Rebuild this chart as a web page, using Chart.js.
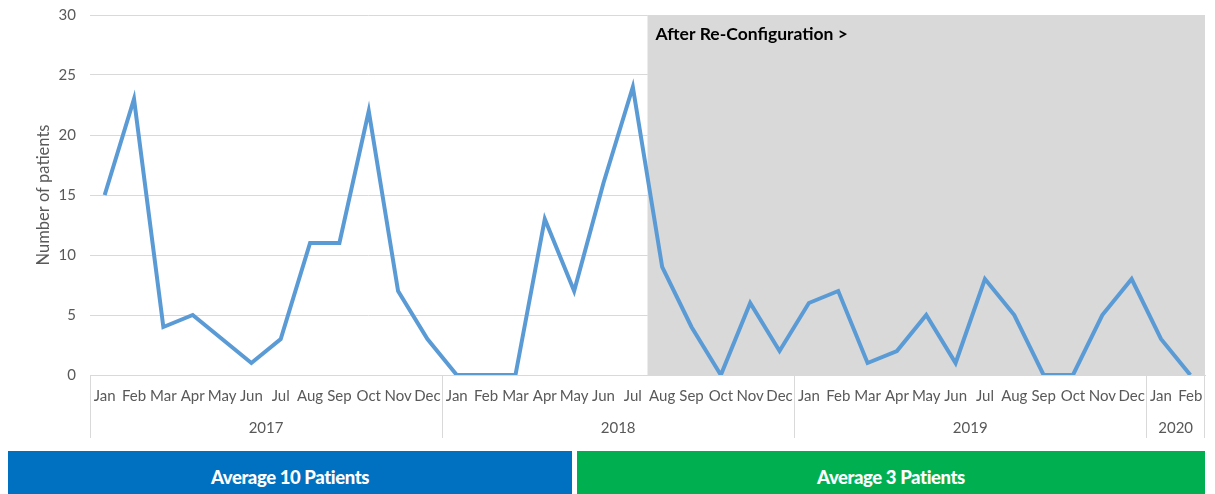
<!DOCTYPE html>
<html>
<head>
<meta charset="utf-8">
<script src="https://cdn.jsdelivr.net/npm/chart.js@4.4.0/dist/chart.umd.min.js"></script>
<style>
    html, body { margin: 0; padding: 0; background: #fff; }
    #wrap { position: relative; width: 1215px; height: 494px; overflow: hidden; }
    #chartBox { position: absolute; left: 0; top: 0; width: 1215px; height: 494px; }
    .avg {
        position: absolute; top: 451px; height: 50px;
        color: #fff; font-family: Lato, "Open Sans", sans-serif; font-weight: 900;
        font-size: 18.5px; line-height: 52px; text-align: center; letter-spacing: -0.4px;
    }
    #avgBefore { left: 8px; width: 564px; background: #0070C0; }
    #avgAfter { left: 577px; width: 628px; background: #00B050; }
</style>
</head>
<body>
<div id="wrap">
    <div id="chartBox"><canvas id="myChart"></canvas></div>
    <div class="avg" id="avgBefore">Average 10 Patients</div>
    <div class="avg" id="avgAfter">Average 3 Patients</div>
</div>
<script>
// Monthly patient counts, Jan 2017 - Feb 2020
const months = ['Jan', 'Feb', 'Mar', 'Apr', 'May', 'Jun', 'Jul', 'Aug', 'Sep', 'Oct', 'Nov', 'Dec'];
const years = ['2017', '2018', '2019', '2020'];
const monthsPerYear = [12, 12, 12, 2];
const patients2017 = [15, 23, 4, 5, 3, 1, 3, 11, 11, 22, 7, 3];
const patients2018 = [0, 0, 0, 13, 7, 16, 24, 9, 4, 0, 6, 2];
const patients2019 = [6, 7, 1, 2, 5, 1, 8, 5, 0, 0, 5, 8];
const patients2020 = [3, 0];
const reconfigStart = 'Aug 2018';
const reconfigLabel = 'After Re-Configuration >';

let labels = [];
years.forEach((y, i) => {
    for (let m = 0; m < monthsPerYear[i]; m++) labels.push(months[m] + ' ' + y);
});
const values = [].concat(patients2017, patients2018, patients2019, patients2020);

const fontFamily = 'Lato, "Open Sans", sans-serif';
const tickFont = { family: fontFamily, size: 15 };

// Grey band after re-configuration, drawn behind the line
const shadePlugin = {
    id: 'shade',
    beforeDatasetsDraw(chart) {
        const { ctx, chartArea, scales } = chart;
        const x = scales.x;
        const idx = labels.indexOf(reconfigStart);
        const left = (x.getPixelForValue(idx - 1) + x.getPixelForValue(idx)) / 2;
        ctx.save();
        ctx.fillStyle = '#D9D9D9';
        ctx.fillRect(left, chartArea.top, chartArea.right - left, chartArea.bottom - chartArea.top);
        ctx.fillStyle = '#000';
        ctx.font = 'bold 17.5px ' + fontFamily;
        ctx.textBaseline = 'middle';
        ctx.fillText(reconfigLabel, left + 8, chartArea.top + 19);
        ctx.restore();
    }
};

// Year row under the month ticks, with separators between years
const yearPlugin = {
    id: 'yearRow',
    afterDraw(chart) {
        const { ctx, chartArea, scales } = chart;
        const x = scales.x;
        const half = (x.getPixelForValue(1) - x.getPixelForValue(0)) / 2;
        ctx.save();
        ctx.strokeStyle = '#D9D9D9';
        ctx.lineWidth = 1;
        ctx.fillStyle = '#595959';
        ctx.font = '15px ' + fontFamily;
        ctx.textAlign = 'center';
        ctx.textBaseline = 'middle';
        let start = 0;
        years.forEach((y, i) => {
            const end = start + monthsPerYear[i] - 1;
            const l = x.getPixelForValue(start) - half;
            const r = x.getPixelForValue(end) + half;
            ctx.beginPath();
            ctx.moveTo(Math.round(l) + 0.5, chartArea.bottom);
            ctx.lineTo(Math.round(l) + 0.5, chartArea.bottom + 63);
            ctx.stroke();
            if (i === years.length - 1) {
                ctx.beginPath();
                ctx.moveTo(Math.round(r) - 0.5, chartArea.bottom);
                ctx.lineTo(Math.round(r) - 0.5, chartArea.bottom + 63);
                ctx.stroke();
            }
            ctx.fillText(y, (l + r) / 2, chartArea.bottom + 53);
            start = end + 1;
        });
        ctx.restore();
    }
};

const ctx = document.getElementById('myChart').getContext('2d');
const myChart = new Chart(ctx, {
    type: 'line',
    data: {
        labels: labels,
        datasets: [{
            label: 'Number of patients',
            data: values,
            borderColor: '#5B9BD5',
            borderWidth: 4,
            pointRadius: 0,
            tension: 0,
            borderJoinStyle: 'miter',
            fill: false
        }]
    },
    options: {
        responsive: true,
        maintainAspectRatio: false,
        animation: false,
        layout: { padding: { top: 15, right: 10, left: 34, bottom: 0 } },
        plugins: {
            legend: { display: false },
            tooltip: { enabled: false }
        },
        scales: {
            x: {
                offset: true,
                grid: { display: false, drawTicks: false },
                border: { color: '#D9D9D9', width: 1 },
                ticks: {
                    autoSkip: false,
                    maxRotation: 0,
                    padding: 12,
                    color: '#595959',
                    font: tickFont,
                    callback: function(val) { return labels[val].split(' ')[0]; }
                },
                afterFit(scale) {
                    scale.height = 119;
                    scale.paddingLeft = 0;
                    scale.paddingRight = 0;
                }
            },
            y: {
                min: 0,
                max: 30,
                ticks: { stepSize: 5, color: '#595959', font: tickFont, padding: 14 },
                grid: { color: '#D9D9D9', drawTicks: false },
                border: { display: false },
                title: {
                    display: true,
                    text: 'Number of patients',
                    color: '#595959',
                    font: { family: fontFamily, size: 16.5 },
                    padding: 0
                },
                afterFit(scale) {
                    scale.width = 56;
                    scale.paddingTop = 0;
                    scale.paddingBottom = 0;
                }
            }
        }
    },
    plugins: [shadePlugin, yearPlugin]
});
</script>
</body>
</html>
